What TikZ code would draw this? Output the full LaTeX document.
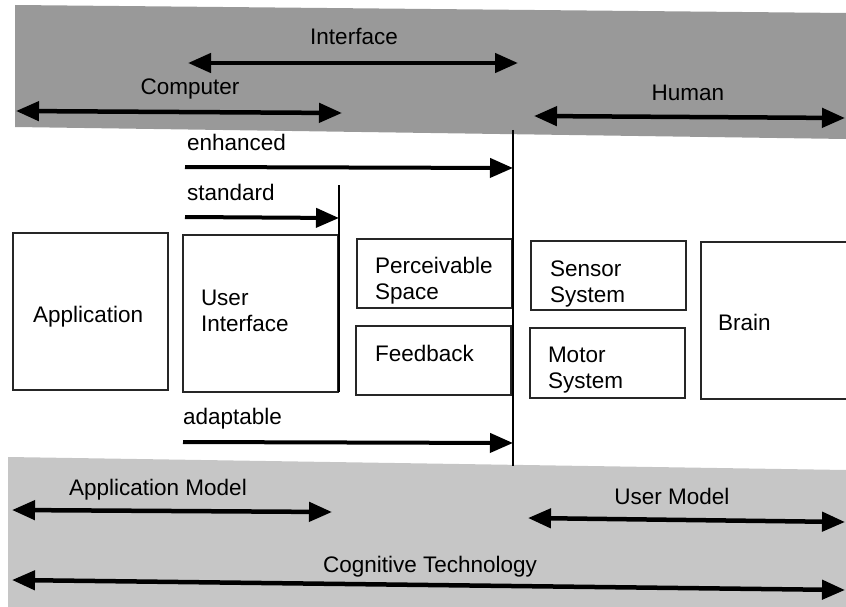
\documentclass[tikz,border=0pt]{standalone}
\usepackage{fontspec}
\setmainfont{Liberation Sans}
\usetikzlibrary{arrows.meta}
\begin{document}
\begin{tikzpicture}[x=1pt,y=-1pt,
  every node/.style={inner sep=0pt,outer sep=0pt},
  txt/.style={font=\fontsize{22.5}{25.5}\selectfont,anchor=base west,align=left},
  bandtxt/.style={font=\fontsize{22.5}{26}\selectfont,anchor=base},
  box/.style={draw=black!85,line width=1.5pt,fill=white,anchor=north west},
  tipbig/.tip={Triangle[length=23pt,width=19pt]},
  dbl/.style={line width=4.5pt,tipbig-tipbig},
  sgl/.style={line width=4pt,-tipbig},
  divider/.style={line width=2.5pt}]
\useasboundingbox (0,0) rectangle (846,607);
% grey bands
\fill[gray!80] (15,5) -- (846,13) -- (846,139) -- (15,127) -- cycle;
\fill[gray!45] (8,457) -- (846,470) -- (846,607) -- (8,607) -- cycle;

% top band
\node[bandtxt] (lInterface) at (354,45) {Interface};
\coordinate (iL) at (188,63); \coordinate (iR) at (518,63);
\draw[dbl] (iL) -- (iR);
\node[bandtxt] (lComputer) at (190,95) {Computer};
\coordinate (cL) at (16,111); \coordinate (cR) at (342,113);
\draw[dbl] (cL) -- (cR);
\node[bandtxt] (lHuman) at (688,101) {Human};
\coordinate (hL) at (534,116); \coordinate (hR) at (845,118);
\draw[dbl] (hL) -- (hR);

% level arrows
\node[txt] (lEnh) at (187,150) {enhanced};
\coordinate (eL) at (185,167); \coordinate (eR) at (513,168);
\draw[sgl] (eL) -- (eR);
\node[txt] (lStd) at (187,200) {standard};
\coordinate (stL) at (185,217); \coordinate (stR) at (339,218);
\draw[sgl] (stL) -- (stR);
\node[txt] (lAda) at (183,424) {adaptable};
\coordinate (aL) at (183,442); \coordinate (aR) at (513,443);
\draw[sgl] (aL) -- (aR);

% boxes
\node[box,minimum width=155pt,minimum height=157pt] (bApp) at (13,233) {};
\node[box,minimum width=155pt,minimum height=157pt] (bUI) at (183,235) {};
\node[box,minimum width=155pt,minimum height=69pt] (bPer) at (357,239) {};
\node[box,minimum width=155pt,minimum height=69pt] (bFb) at (356,326) {};
\node[box,minimum width=155pt,minimum height=69pt] (bSen) at (531,241) {};
\node[box,minimum width=155pt,minimum height=70pt] (bMot) at (530,328) {};
\node[box,minimum width=160pt,minimum height=157pt] (bBrain) at (701,242) {};

% dividers between computer, interface and human
\coordinate (dTop) at (513,130); \coordinate (dBot) at (513,466);
\draw[divider] (dTop) -- (dBot);
\coordinate (sTop) at (339,185); \coordinate (sBot) at (339,392);
\draw[divider] (sTop) -- (sBot);

\node[txt] (tApp) at (33,322) {Application};
\node[txt] (tUI) at (201,331) {User\\Interface};
\node[txt] (tPer) at (375,299) {Perceivable\\Space};
\node[txt] (tFb) at (375,361) {Feedback};
\node[txt] (tSen) at (550,302) {Sensor\\System};
\node[txt] (tMot) at (548,388) {Motor\\System};
\node[txt] (tBrain) at (718,330) {Brain};

% bottom band
\node[bandtxt] (lAppM) at (158,495) {Application Model};
\coordinate (amL) at (12,510); \coordinate (amR) at (332,512);
\draw[dbl] (amL) -- (amR);
\node[bandtxt] (lUserM) at (672,504) {User Model};
\coordinate (umL) at (528,518); \coordinate (umR) at (845,522);
\draw[dbl] (umL) -- (umR);
\node[bandtxt] (lCog) at (430,572) {Cognitive Technology};
\coordinate (ctL) at (12,580); \coordinate (ctR) at (845,590);
\draw[dbl] (ctL) -- (ctR);
\end{tikzpicture}
\end{document}
